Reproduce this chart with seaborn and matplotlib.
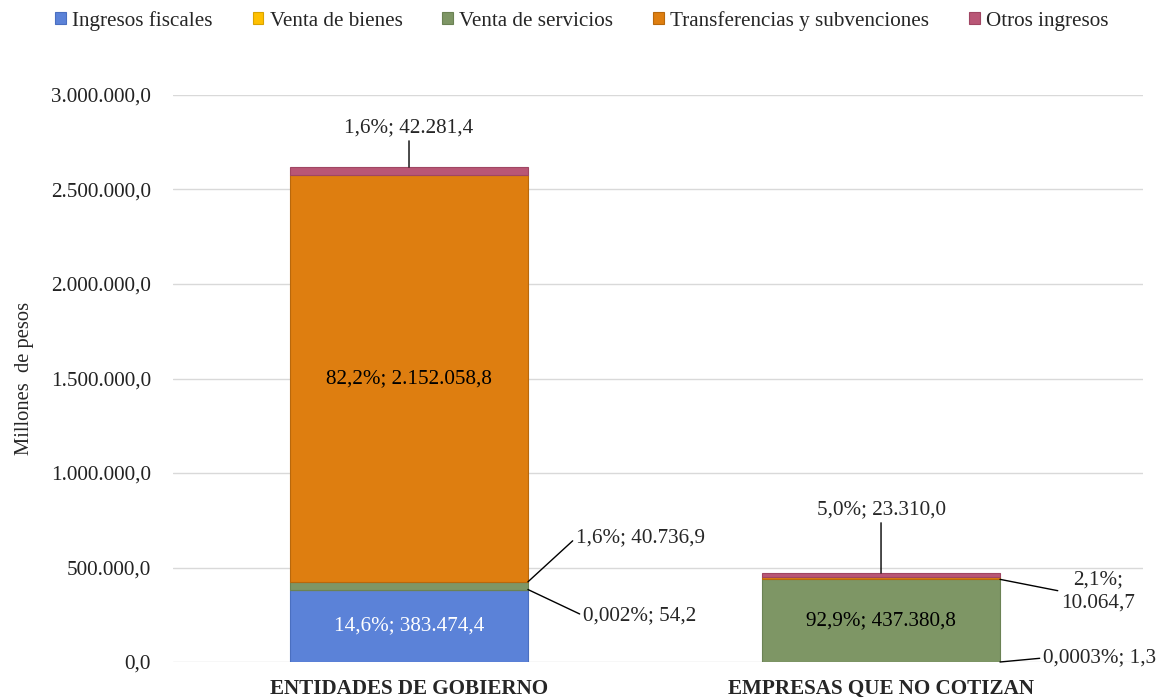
import matplotlib
matplotlib.use("Agg")
import matplotlib.pyplot as plt
import matplotlib.ticker as mticker
from matplotlib.patches import Patch
import numpy as np
import pandas as pd
import seaborn as sns

# Data (millones de pesos)
categories = ["ENTIDADES DE GOBIERNO", "EMPRESAS QUE NO COTIZAN"]
series = ["Ingresos fiscales", "Venta de bienes", "Venta de servicios",
          "Transferencias y subvenciones", "Otros ingresos"]
ingresos_fiscales = [383474.4, 0.0]
venta_bienes = [54.2, 1.3]
venta_servicios = [40736.9, 437380.8]
transferencias = [2152058.8, 10064.7]
otros_ingresos = [42281.4, 23310.0]
pct_labels = {
    "Ingresos fiscales": ["14,6%", None],
    "Venta de bienes": ["0,002%", "0,0003%"],
    "Venta de servicios": ["1,6%", "92,9%"],
    "Transferencias y subvenciones": ["82,2%", "2,1%"],
    "Otros ingresos": ["1,6%", "5,0%"],
}

colors = ["#5B82D8", "#FFC000", "#7E9665", "#DE7E10", "#B95676"]
edges = ["#4A6FC0", "#D9A300", "#6B8254", "#B8680C", "#A04663"]

df = pd.DataFrame({"categoria": categories,
                   series[0]: ingresos_fiscales,
                   series[1]: venta_bienes,
                   series[2]: venta_servicios,
                   series[3]: transferencias,
                   series[4]: otros_ingresos})


def es_num(v):
    s = f"{v:,.1f}"
    return s.replace(",", "X").replace(".", ",").replace("X", ".")


sns.set_theme(style="white")
plt.rcParams["font.family"] = ["Liberation Serif", "DejaVu Serif"]
FS = 15.2

fig = plt.figure(figsize=(11.64, 6.98), dpi=100)
ax = fig.add_axes([173 / 1164, 1 - 662 / 698, (1143 - 173) / 1164, (662 - 95) / 698])

bottom = np.zeros(len(categories))
for name, col, ec in zip(series, colors, edges):
    sns.barplot(data=df, x="categoria", y=name, bottom=bottom, color=col,
                edgecolor=ec, linewidth=0.8, width=0.504, saturation=1,
                errorbar=None, ax=ax, zorder=3)
    bottom = bottom + df[name].values

ax.set_xlim(-0.5, 1.555)
ax.set_ylim(0, 3000000)
ax.yaxis.set_major_locator(mticker.MultipleLocator(500000))
ax.yaxis.set_major_formatter(mticker.FuncFormatter(lambda v, p: es_num(v)))
ax.grid(axis="y", color="#D9D9D9", linewidth=1, zorder=0)
ax.set_axisbelow(True)
for s in ax.spines.values():
    s.set_visible(False)
ax.tick_params(axis="y", length=0, pad=16, labelsize=FS, labelcolor="#222222")
ax.tick_params(axis="x", length=0, pad=12, labelsize=FS)
for t in ax.get_xticklabels():
    t.set_fontweight("bold")
ax.set_xlabel("")
ax.set_ylabel("Millones  de pesos", fontsize=14.8, labelpad=12)

# Data labels
halfw = 0.504 / 2
line = dict(arrowstyle="-", color="black", lw=1, shrinkA=0, shrinkB=0)
cum = df[series].cumsum(axis=1)


def lab(name, i):
    v = df.loc[i, name]
    return f"{pct_labels[name][i]}; {es_num(v)}"


# Centered labels inside the big segments
for name, i, c in [("Transferencias y subvenciones", 0, "black"),
                   ("Ingresos fiscales", 0, "white"),
                   ("Venta de servicios", 1, "black")]:
    top = cum.loc[i, name]
    mid = top - df.loc[i, name] / 2
    ax.text(i, mid, lab(name, i), ha="center", va="center", fontsize=FS,
            color=c, zorder=5)

# Entidades de gobierno
ax.annotate(lab("Otros ingresos", 0), xy=(0, cum.loc[0, "Otros ingresos"]),
            xytext=(0, 39), textcoords="offset pixels", ha="center", va="center",
            fontsize=FS, arrowprops=dict(line, relpos=(0.5, 0)), zorder=5)
ax.annotate(lab("Venta de servicios", 0), xy=(halfw, cum.loc[0, "Venta de servicios"]),
            xytext=(48, 44), textcoords="offset pixels", ha="left", va="center",
            fontsize=FS, arrowprops=dict(line, relpos=(0, 0.5)), zorder=5)
ax.annotate(lab("Venta de bienes", 0), xy=(halfw, cum.loc[0, "Ingresos fiscales"]),
            xytext=(55, -26), textcoords="offset pixels", ha="left", va="center",
            fontsize=FS, arrowprops=dict(line, relpos=(0, 0.5)), zorder=5)

# Empresas que no cotizan
ax.annotate(lab("Otros ingresos", 1), xy=(1, cum.loc[1, "Otros ingresos"]),
            xytext=(0, 63), textcoords="offset pixels", ha="center", va="center",
            fontsize=FS, arrowprops=dict(line, relpos=(0.5, 0)), zorder=5)
ax.annotate(f"{pct_labels['Transferencias y subvenciones'][1]};\n"
            f"{es_num(df.loc[1, 'Transferencias y subvenciones'])}",
            xy=(1 + halfw, cum.loc[1, "Venta de servicios"]),
            xytext=(98, -12), textcoords="offset pixels", ha="center", va="center",
            fontsize=FS, linespacing=1.35, arrowprops=dict(line, relpos=(0, 0.5)),
            zorder=5)
ax.annotate(lab("Venta de bienes", 1), xy=(1 + halfw, 0),
            xytext=(43, 4), textcoords="offset pixels", ha="left", va="center",
            fontsize=FS, arrowprops=dict(line, relpos=(0, 0.5)), zorder=5,
            annotation_clip=False)

handles = [Patch(facecolor=c, edgecolor=e, linewidth=0.8) for c, e in zip(colors, edges)]
fig.legend(handles, series, loc="center", bbox_to_anchor=(0.5, 1 - 21 / 698),
           ncol=5, frameon=False, fontsize=FS, handlelength=0.5, handleheight=0.5,
           handletextpad=0.3, columnspacing=1.9, borderaxespad=0)

fig.savefig("out.png", dpi=100)
